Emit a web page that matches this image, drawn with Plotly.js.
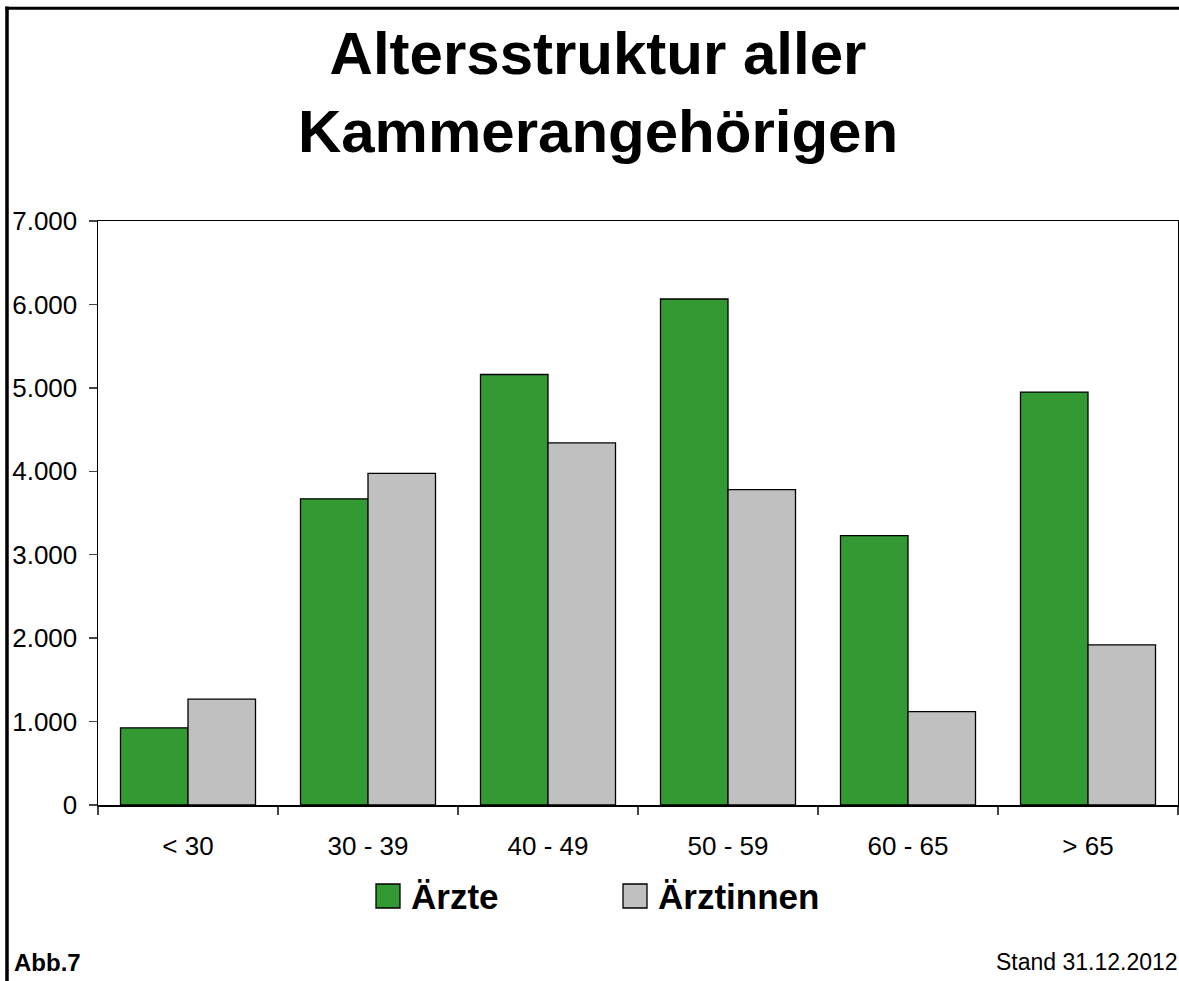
<!DOCTYPE html>
<html>
<head>
<meta charset="utf-8">
<script src="https://cdn.plot.ly/plotly-3.0.1.min.js"></script>
<style>
  html, body { margin: 0; padding: 0; background: #fff; }
  #chart { width: 1179px; height: 981px; }
</style>
</head>
<body>
<div id="chart"></div>
<script>
// ---- data ----
const categories = ['< 30', '30 - 39', '40 - 49', '50 - 59', '60 - 65', '> 65'];
const seriesNames = ['Ärzte', 'Ärztinnen'];
const aerzte = [925, 3670, 5160, 6065, 3230, 4950];
const aerztinnen = [1270, 3975, 4340, 3780, 1120, 1920];
const yTickValues = [0, 1000, 2000, 3000, 4000, 5000, 6000, 7000];
const titleText = 'Altersstruktur aller<br>Kammerangehörigen';
const figureLabel = 'Abb.7';
const standLabel = 'Stand 31.12.2012';

// ---- styling ----
const FONT = 'Liberation Sans, Arial, Helvetica, sans-serif';
const colors = ['#339933', '#C0C0C0'];
const W = 1179, H = 981;
const M = { l: 98, r: 1, t: 221, b: 176 };
const plotW = W - M.l - M.r, plotH = H - M.t - M.b;
const px2x = p => (p - M.l) / plotW;
const px2y = p => (H - M.b - p) / plotH;

const traces = [aerzte, aerztinnen].map((vals, i) => ({
  type: 'bar',
  name: seriesNames[i],
  x: categories,
  y: vals,
  marker: { color: colors[i], line: { color: '#000', width: 1.3 } },
  showlegend: false,
  hoverinfo: 'x+y+name'
}));

// manual legend (large swatches as in the reference)
const legendSwatchX = [376, 623];
const legendTextX = [409, 656];
const shapes = [];
const annotations = [];
seriesNames.forEach((n, i) => {
  shapes.push({
    type: 'rect', xref: 'paper', yref: 'paper',
    x0: px2x(legendSwatchX[i]), x1: px2x(legendSwatchX[i] + 24),
    y0: px2y(908), y1: px2y(884),
    fillcolor: colors[i], line: { color: '#000', width: 1.3 }
  });
  annotations.push({
    xref: 'paper', yref: 'paper',
    x: px2x(legendTextX[i]), y: px2y(896),
    xanchor: 'left', yanchor: 'middle',
    text: '<b>' + n + '</b>', showarrow: false,
    font: { family: FONT, size: 35, color: '#000' }
  });
});

// outer frame lines (left and top)
shapes.push({ type: 'line', xref: 'paper', yref: 'paper',
  x0: px2x(7), x1: px2x(7), y0: px2y(H + 2), y1: px2y(6.5),
  line: { color: '#000', width: 3.5 } });
shapes.push({ type: 'line', xref: 'paper', yref: 'paper',
  x0: px2x(5.3), x1: px2x(W + 2), y0: px2y(8.3), y1: px2y(8.3),
  line: { color: '#000', width: 3 } });

annotations.push({
  xref: 'paper', yref: 'paper', x: px2x(12), y: px2y(962),
  xanchor: 'left', yanchor: 'middle', showarrow: false,
  text: '<b>' + figureLabel + '</b>',
  font: { family: FONT, size: 24, color: '#000' }
});
annotations.push({
  xref: 'paper', yref: 'paper', x: px2x(1180), y: px2y(962),
  xanchor: 'right', yanchor: 'middle', showarrow: false,
  text: standLabel,
  font: { family: FONT, size: 23, color: '#000' }
});

const layout = {
  width: W, height: H,
  margin: M,
  paper_bgcolor: '#fff', plot_bgcolor: '#fff',
  separators: ',.',
  barmode: 'group', bargap: 0.25, bargroupgap: 0,
  font: { family: FONT, color: '#000' },
  title: {
    text: '<b>' + titleText + '</b>',
    font: { family: FONT, size: 60, color: '#000' },
    xref: 'container', x: 598 / W, xanchor: 'center',
    yref: 'container', y: 1 - 74 / H, yanchor: 'top'
  },
  xaxis: {
    type: 'category',
    showline: true, linecolor: '#000', linewidth: 1.5, mirror: true,
    ticks: 'outside', tickson: 'boundaries', ticklen: 8, tickwidth: 1.3, tickcolor: '#444',
    tickfont: { family: FONT, size: 26, color: '#000' },
    ticklabelstandoff: 17,
    showgrid: false, zeroline: false, fixedrange: true
  },
  yaxis: {
    range: [0, 7000],
    tickvals: yTickValues, tickformat: ',d',
    showline: true, linecolor: '#000', linewidth: 1.5, mirror: true,
    ticks: 'outside', ticklen: 8, tickwidth: 1.3, tickcolor: '#444',
    tickfont: { family: FONT, size: 26, color: '#000' },
    ticklabelstandoff: 6,
    showgrid: false, zeroline: false, fixedrange: true
  },
  shapes: shapes,
  annotations: annotations
};

Plotly.newPlot('chart', traces, layout, { displayModeBar: false, staticPlot: true });
</script>
</body>
</html>
